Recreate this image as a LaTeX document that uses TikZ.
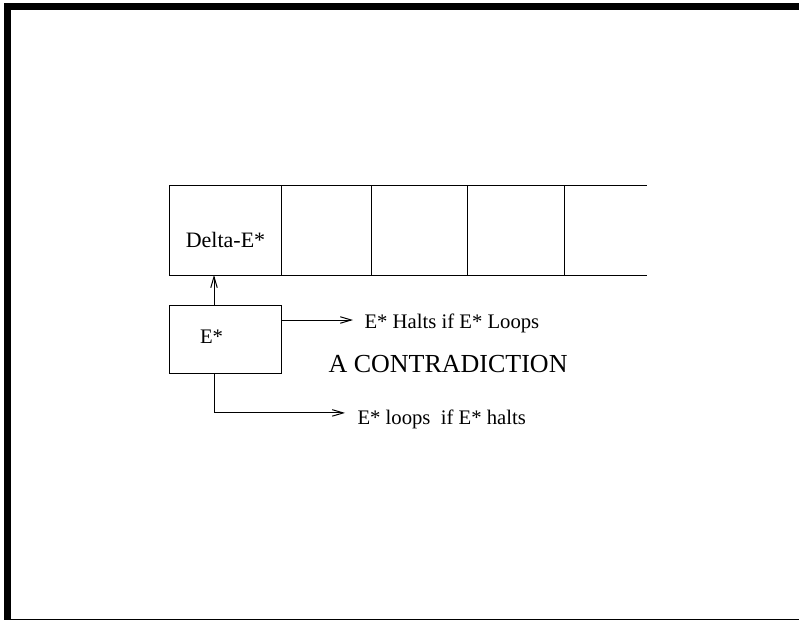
\documentclass[tikz,border=0pt]{standalone}
\usepackage{fontspec}
\setmainfont{Liberation Serif}
\usetikzlibrary{arrows.meta, positioning}
\tikzset{
    tapefig/.style={x=1pt, y=-1pt, line width=1pt, >={Straight Barb[length=11pt,width=6.5pt]}},
    cell/.style={draw, minimum height=89pt, inner sep=0pt, outer sep=0pt},
    machine/.style={draw, minimum width=112pt, minimum height=68pt, inner sep=0pt, outer sep=0pt},
    txt/.style={inner sep=0pt, anchor=base west},
    % text sizes
    small/.style={font=\fontsize{20.7}{24}\selectfont},
    large/.style={font=\fontsize{26}{30}\selectfont},
}
\begin{document}
\begin{tikzpicture}[tapefig]
    \useasboundingbox (0,0) rectangle (799,620);
    % page frame
    \fill (4,3.3) rectangle (11,620);
    \fill (4,3.3) rectangle (799,10);
    \draw (11,619) -- (799,619);

    % the tape
    \node[cell, minimum width=112pt, anchor=north west] at (169,186) (c1) {};
    \node[cell, minimum width=90pt, right=0pt of c1]  (c2) {};
    \node[cell, minimum width=96pt, right=0pt of c2]  (c3) {};
    \node[cell, minimum width=97pt, right=0pt of c3]  (c4) {};
    \draw (c4.north east) -- ++(83,0);
    \draw (c4.south east) -- ++(83,0);
    \node[small, font=\fontsize{22}{26}\selectfont, inner sep=0pt, anchor=base] at (225.5,247) (dlabel) {Delta-E*};

    % the machine
    \node[machine, below=30pt of c1.south west, anchor=north west] (estar) {};
    \node[small, inner sep=0pt, anchor=base] at (211.5,343) (elabel) {E*};

    \node[txt, small] at (364,328) (halts) {E* Halts if E* Loops};
    \node[txt, large] at (328,372) (contra) {A CONTRADICTION};
    \node[txt, small] at (357,424) (loops) {E* loops\ \ if E* halts};

    \draw[->] ([xshift=-11pt]estar.north) -- ([xshift=-11pt]estar.north |- c1.south);
    \draw[->, shorten >=11pt] ([yshift=-15pt]estar.north east) -- ([yshift=-15pt]estar.north east -| halts.west);
    \draw[->, shorten >=12pt] ([xshift=-11pt]estar.south) |- ([yshift=6pt]loops.west);
\end{tikzpicture}
\end{document}
